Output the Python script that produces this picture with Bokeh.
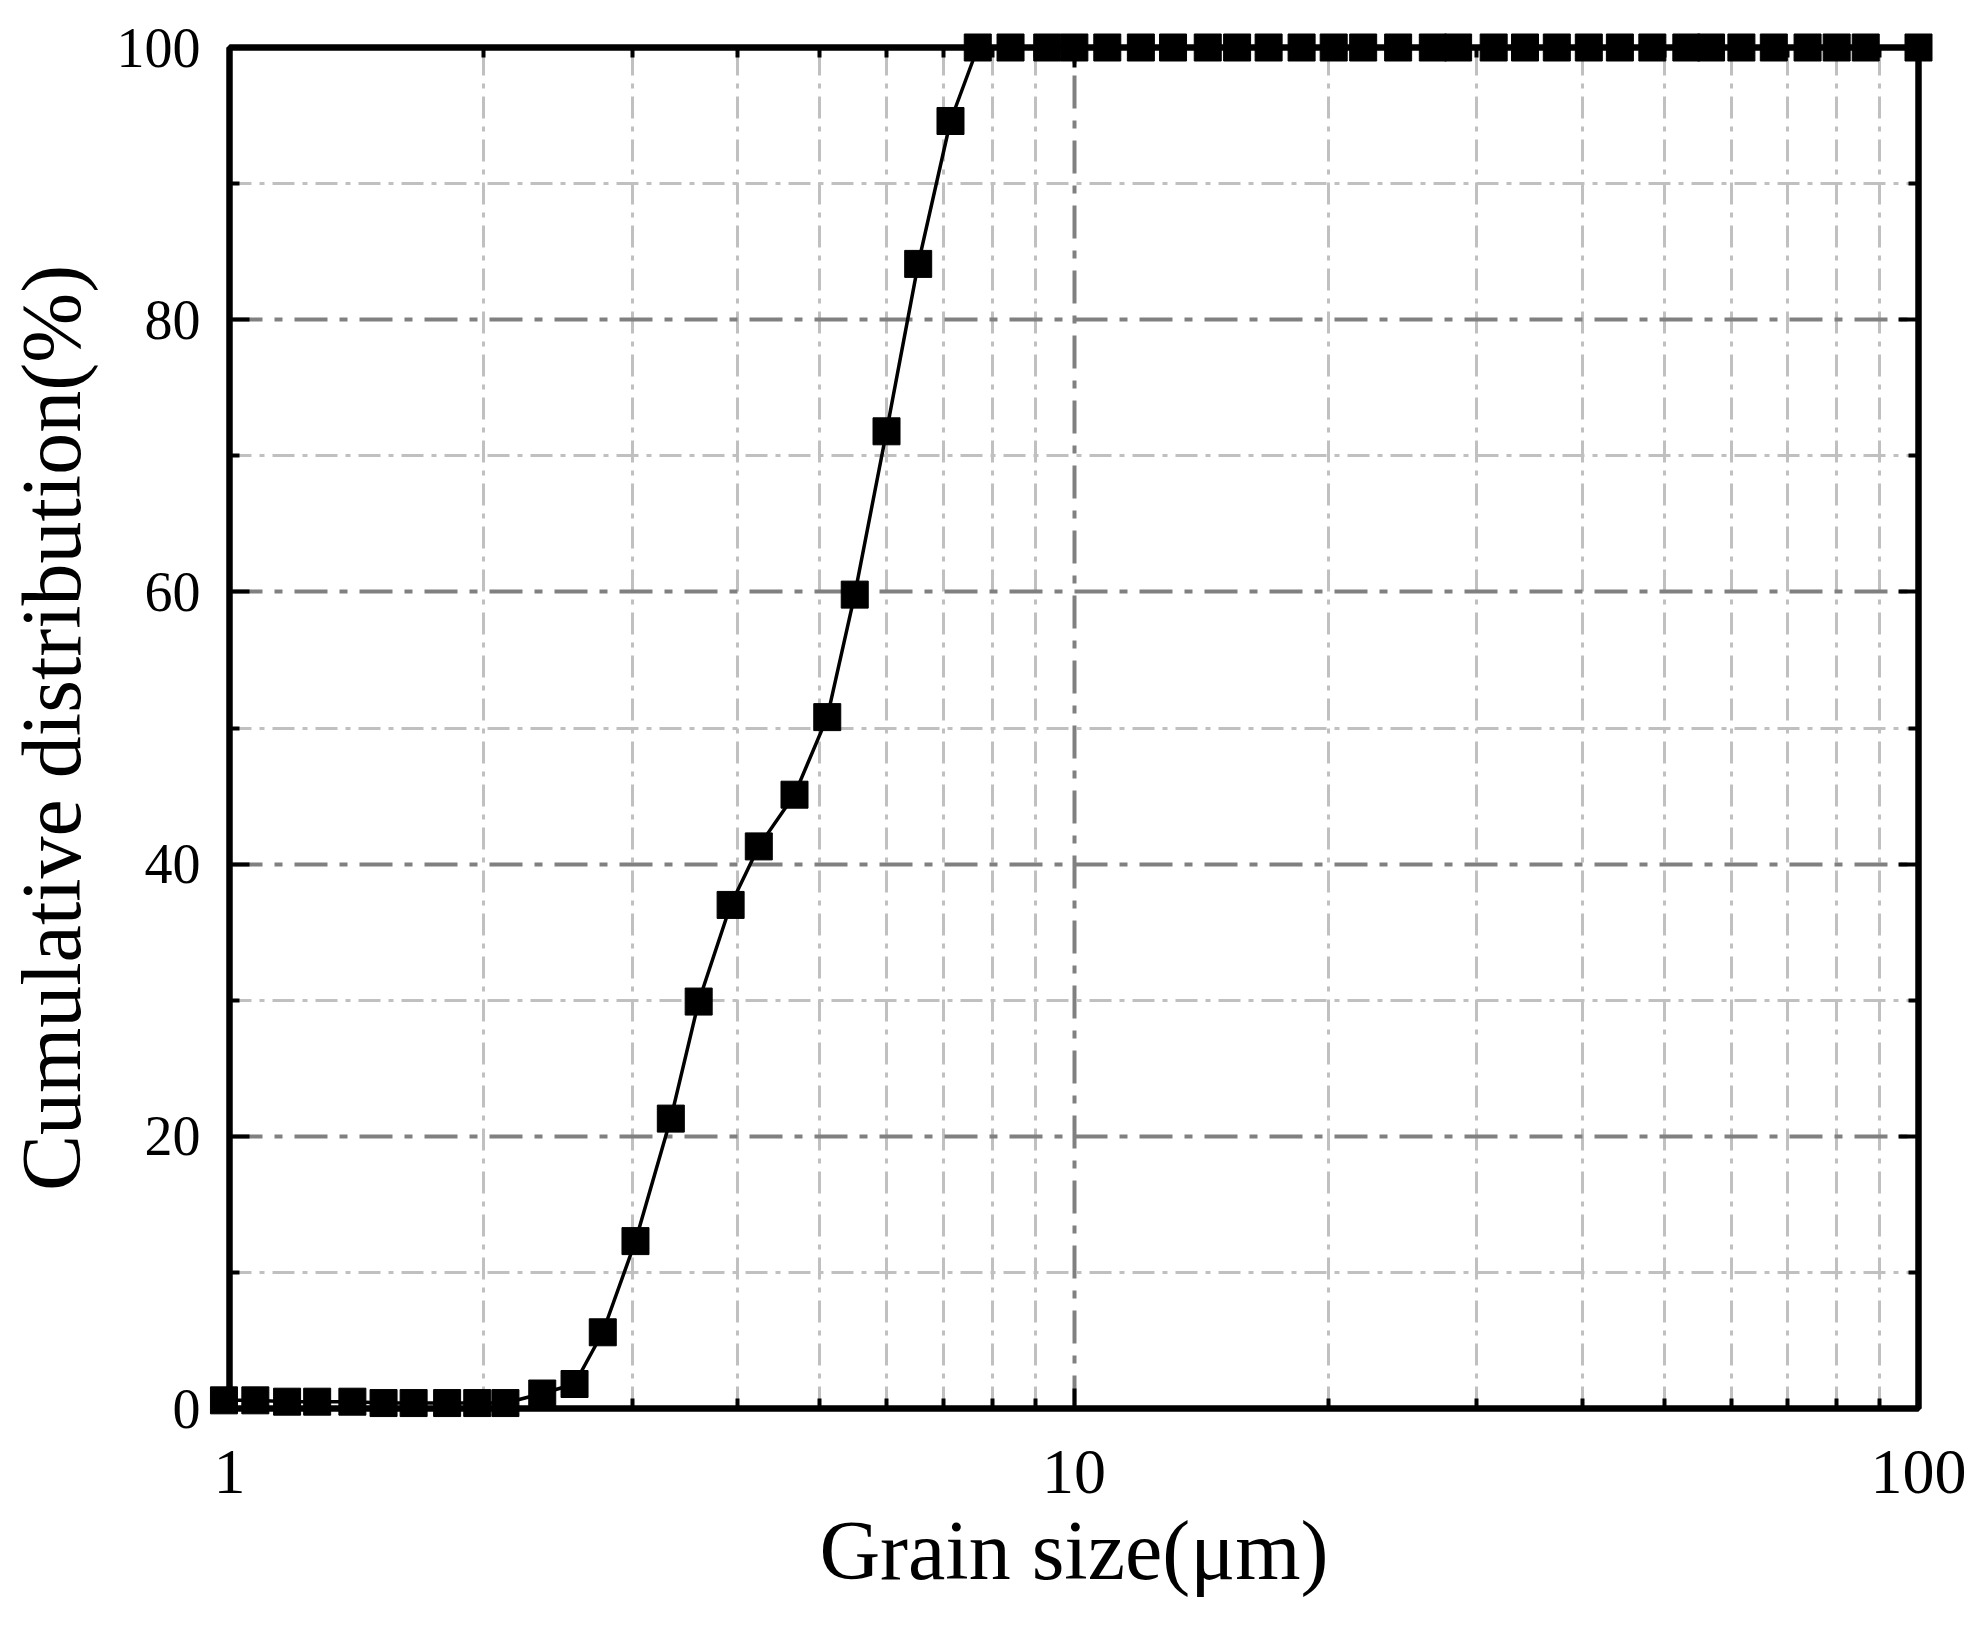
from bokeh.plotting import figure
from bokeh.models import Range1d, FixedTicker, LogAxis, LinearAxis, ColumnDataSource
from bokeh.embed import file_html
from bokeh.resources import INLINE

# Grain size classes (µm) and cumulative distribution (%)
grain_size = [0.985, 1.073, 1.170, 1.270, 1.398, 1.522, 1.652, 1.810, 1.965, 2.122,
              2.346, 2.562, 2.767, 3.025, 3.331, 3.594, 3.921, 4.234, 4.667, 5.103,
              5.50, 5.998, 6.539, 7.141, 7.692, 8.411, 9.296, 10.01, 10.95, 12.0,
              13.1, 14.4, 15.6, 17.0, 18.6, 20.3, 22.0, 24.2, 26.6, 28.5,
              31.4, 34.2, 37.3, 40.7, 44.3, 48.4, 53.1, 56.8, 61.7, 67.4,
              73.9, 80.0, 86.6, 100.0]
cumulative = [0.6, 0.6, 0.5, 0.5, 0.5, 0.4, 0.4, 0.4, 0.4, 0.4,
              1.1, 1.8, 5.6, 12.3, 21.3, 29.9, 37.0, 41.3, 45.1, 50.8,
              59.8, 71.8, 84.1, 94.6, 100, 100, 100, 100, 100, 100,
              100, 100, 100, 100, 100, 100, 100, 100, 100, 100,
              100, 100, 100, 100, 100, 100, 100, 100, 100, 100,
              100, 100, 100, 100]

x_major = [1, 10, 100]
x_major_labels = ["1", "10", "100"]
x_minor = [2, 3, 4, 5, 6, 7, 8, 9, 20, 30, 40, 50, 60, 70, 80, 90]
y_major = [0, 20, 40, 60, 80, 100]
y_minor = [10, 30, 50, 70, 90]

x_label = "Grain size(μm)"
y_label = "Cumulative distribution(%)"

FONT = "Liberation Serif"

src = ColumnDataSource(dict(x=grain_size, y=cumulative))

p = figure(width=1969, height=1634, x_axis_type="log",
           x_range=Range1d(1, 100), y_range=Range1d(0, 100),
           output_backend="svg", toolbar_location=None,
           min_border_left=229, min_border_right=51,
           min_border_top=47, min_border_bottom=226)
p.background_fill_color = "white"
p.border_fill_color = "white"
p.outline_line_color = "black"
p.outline_line_width = 6

xt = FixedTicker(ticks=x_major, minor_ticks=x_minor)
yt = FixedTicker(ticks=y_major, minor_ticks=y_minor)


def style_axis(ax, label_size="64px", show_labels=True):
    ax.axis_line_color = "black"
    ax.axis_line_width = 6
    ax.major_tick_in = 20
    ax.major_tick_out = 0
    ax.minor_tick_in = 10
    ax.minor_tick_out = 0
    ax.major_tick_line_width = 4
    ax.minor_tick_line_width = 4
    ax.major_tick_line_color = "black"
    ax.minor_tick_line_color = "black"
    ax.major_label_text_font = FONT
    ax.major_label_text_font_size = label_size
    ax.major_label_text_color = "black"
    ax.axis_label_text_font = FONT
    ax.axis_label_text_font_size = "84px"
    ax.axis_label_text_font_style = "normal"
    ax.axis_label_text_color = "black"
    if not show_labels:
        ax.major_label_text_font_size = "0px"
        ax.major_label_text_color = None


xa = p.xaxis[0]
xa.ticker = xt
xa.axis_label = x_label
xa.major_label_overrides = {t: s for t, s in zip(x_major, x_major_labels)}
style_axis(xa, "64px")
xa.major_label_standoff = 42
xa.axis_label_standoff = 8

ya = p.yaxis[0]
ya.ticker = yt
ya.axis_label = y_label
style_axis(ya, "56px")
ya.major_label_standoff = 29
ya.axis_label_standoff = 16

top = LogAxis(ticker=FixedTicker(ticks=x_major, minor_ticks=x_minor))
style_axis(top, show_labels=False)
p.add_layout(top, "above")
right = LinearAxis(ticker=FixedTicker(ticks=y_major, minor_ticks=y_minor))
style_axis(right, show_labels=False)
p.add_layout(right, "right")

# grids
p.xgrid.ticker = xt
p.ygrid.ticker = yt
for g in (p.xgrid[0], p.ygrid[0]):
    g.grid_line_color = "#808080"
    g.grid_line_width = 4
    g.grid_line_dash = "33 12 8 12"
    g.minor_grid_line_color = "#C0C0C0"
    g.minor_grid_line_width = 3
    g.minor_grid_line_dash = "22 8 5 8"

p.line("x", "y", source=src, line_color="black", line_width=3.5, level="overlay")
p.scatter("x", "y", source=src, marker="square", size=27,
          fill_color="black", line_color="black", level="overlay")

open("out.html", "w").write(file_html(p, INLINE))
